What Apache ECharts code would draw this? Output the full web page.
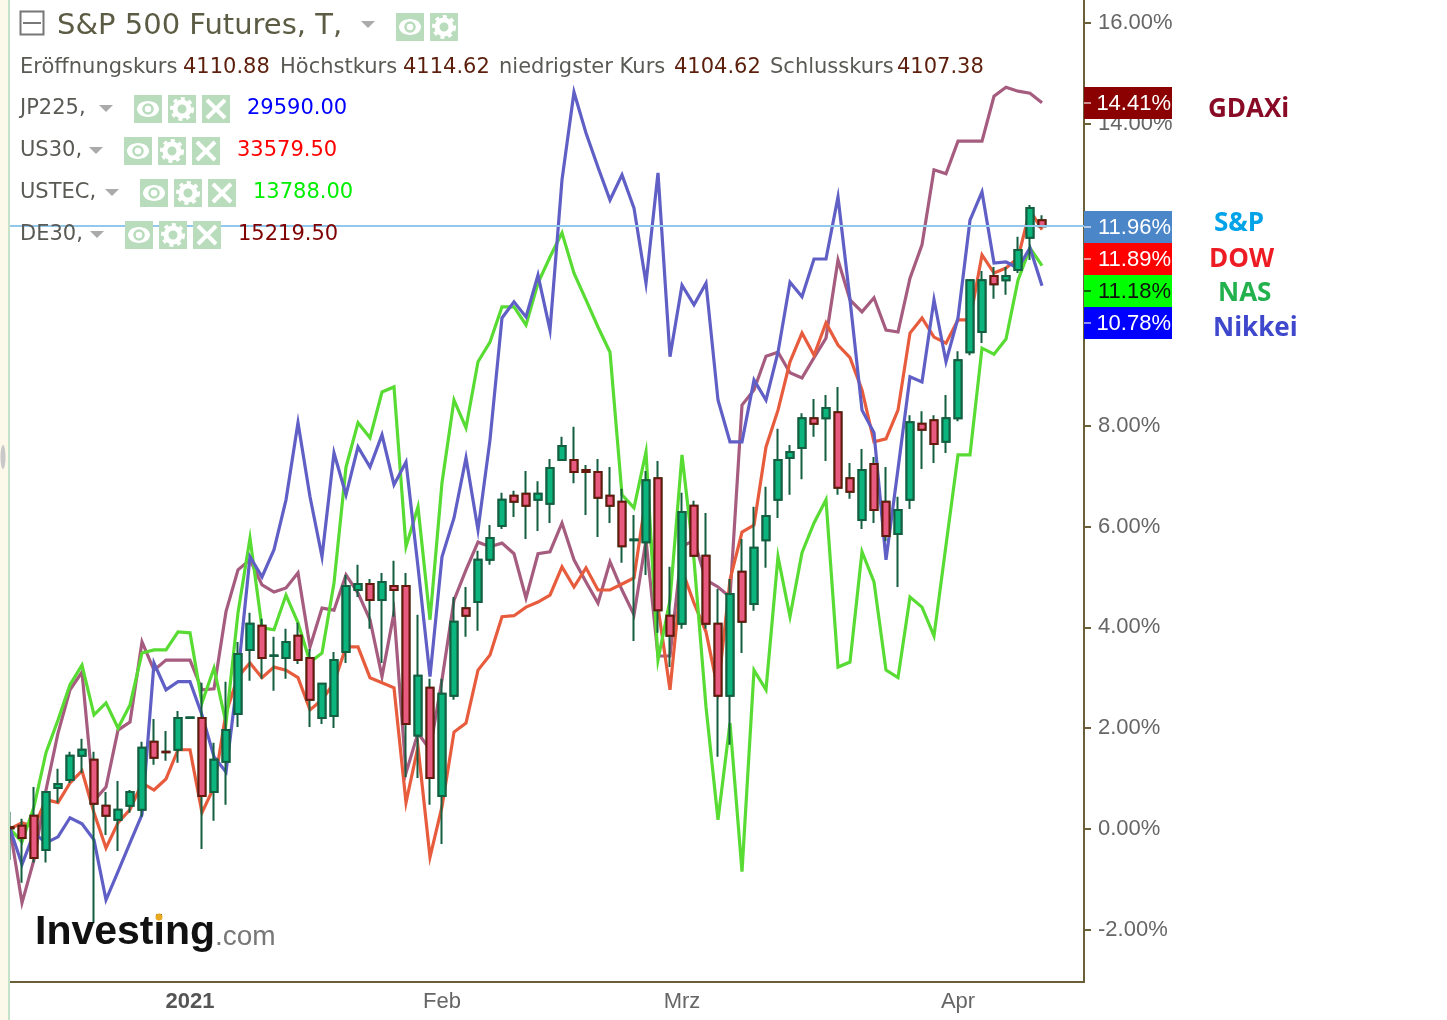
<!DOCTYPE html>
<html>
<head>
<meta charset="utf-8">
<title>S&amp;P 500 Futures</title>
<script src="https://cdn.jsdelivr.net/npm/echarts@6/dist/echarts.min.js"></script>
<style>
html,body{margin:0;padding:0;background:#fff;}
#main{width:1447px;height:1020px;}
</style>
</head>
<body>
<div id="main"></div>
<script>
// candles, in % change
var spOpen = [.03,.06,.26,-.42,.81,.97,1.45,1.37,.46,.18,.46,.38,1.73,1.53,1.57,2.20,2.20,.73,1.33,2.28,
	3.55,4.03,3.43,3.39,3.83,3.39,2.20,2.24,3.51,4.74,4.86,4.54,4.82,4.82,1.85,2.80,.65,2.64,4.38,4.50,
	5.34,6.01,6.61,6.65,6.53,6.45,7.32,7.32,7.12,7.08,6.61,6.49,5.73,5.69,6.96,4.23,4.07,6.41,5.42,4.07,
	2.64,5.10,4.46,5.73,6.53,7.36,7.56,8.15,8.15,8.27,6.96,6.13,7.24,6.49,5.85,6.53,8.04,8.11,7.68,8.15,
	9.46,9.86,10.97,10.89,11.09,11.73,12.08];
var spClose = [.01,-.18,-.58,.73,.89,1.45,1.57,.50,.26,.38,.73,1.61,1.41,1.52,2.20,2.21,.65,1.37,1.96,3.47,
	4.07,3.39,3.44,3.71,3.35,2.56,2.88,3.35,4.82,4.86,4.54,4.90,4.74,2.08,3.04,1.01,2.68,4.11,4.23,5.34,
	5.77,6.53,6.49,6.41,6.65,7.16,7.60,7.08,7.08,6.57,6.41,5.61,5.74,6.92,4.34,3.83,6.29,5.42,4.07,2.64,
	4.66,4.11,5.58,6.21,7.32,7.48,8.15,8.04,8.35,6.77,6.69,7.12,6.33,5.81,6.33,8.07,7.92,7.64,8.15,9.30,
	10.89,10.89,10.81,10.97,11.49,12.32,11.96];
var spLow = [-.62,-1.07,-.67,-.67,.52,.91,1.11,-1.87,-.12,-.44,.32,.24,1.27,1.35,1.31,2.20,-.40,.16,.48,2.02,
	2.94,2.98,2.74,2.98,3.27,2.02,2.08,2.00,3.29,4.60,3.97,3.29,4.21,1.03,1.01,.48,-.30,2.56,3.81,3.93,
	5.24,5.95,6.19,5.75,5.91,6.07,7.32,6.86,6.23,5.79,6.07,5.28,3.73,5.04,3.89,3.21,3.97,5.42,3.97,1.43,
	1.67,3.49,4.33,5.18,6.17,6.63,6.94,7.78,7.30,6.63,6.55,5.95,6.07,5.71,4.80,6.35,7.14,7.26,7.46,8.09,
	9.40,9.64,10.52,10.60,11.03,11.29,11.96];
var spHigh = [.34,.20,.83,.73,1.19,1.53,1.79,1.53,.73,.95,.77,1.73,2.18,1.94,2.34,2.21,2.90,1.71,2.92,3.71,
	4.29,4.17,3.81,3.97,4.09,3.57,2.88,3.51,5.04,5.24,4.96,5.08,5.32,5.08,4.25,2.98,2.98,4.60,4.80,5.52,
	6.03,6.67,6.71,7.10,6.90,7.34,7.78,7.98,7.22,7.34,7.18,6.75,6.23,7.10,7.30,5.20,6.67,6.51,6.27,4.76,
	4.96,5.75,6.39,6.79,7.94,7.62,8.25,8.53,8.61,8.77,7.26,7.54,7.38,7.18,6.59,8.21,8.29,8.21,8.61,9.48,
	10.89,11.07,11.15,11.15,11.75,12.38,12.18];

var dowValues = [0,.12,.04,.58,.52,.91,1.15,.32,-.38,.12,.38,.91,.77,.99,1.57,1.57,.32,.83,2.30,3.02,
	3.29,3.00,3.21,3.15,3.00,2.36,2.56,2.90,3.61,3.61,3.00,2.90,2.80,.52,1.63,-.56,.44,1.92,2.10,3.15,
	3.45,4.21,4.23,4.40,4.50,4.64,5.20,4.80,5.18,4.74,4.74,4.86,4.98,6.59,4.40,2.76,5.14,4.48,3.91,2.76,
	4.94,5.89,6.03,7.58,8.31,9.27,9.84,9.40,10.04,9.60,9.35,8.71,7.68,7.74,8.31,9.84,10.14,9.76,9.64,10.10,
	10.10,11.39,11.03,11.13,11.33,12.28,11.89];
var nasValues = [0,-.26,.44,1.51,2.16,2.86,3.25,2.26,2.50,2.00,2.46,3.49,3.55,3.55,3.91,3.89,2.50,3.19,2.10,4.29,
	5.77,3.99,3.95,4.64,4.09,3.31,3.49,4.88,7.18,8.06,7.76,8.67,8.77,5.60,6.39,4.15,6.87,8.51,7.96,9.27,
	9.66,10.36,10.36,10.00,10.83,11.35,11.83,11.03,10.50,9.96,9.46,6.63,6.37,7.48,3.35,4.54,7.42,5.34,2.42,.18,
	2.10,-.85,3.15,2.76,5.40,4.21,5.48,6.07,6.53,3.21,3.31,5.50,4.90,3.15,3.00,4.60,4.40,3.83,5.63,7.42,
	7.42,9.54,9.42,9.72,10.89,11.53,11.18];
var daxValues = [0,-1.47,-.61,.77,1.90,2.76,3.11,.56,.83,1.96,2.12,3.71,3.15,3.35,3.35,3.35,2.76,2.78,4.31,5.14,
	5.34,4.84,4.70,4.78,5.08,3.61,4.38,4.34,5.04,4.68,4.15,3.02,4.29,1.11,1.90,1.57,2.96,4.54,5.14,5.69,
	5.60,5.67,5.46,4.58,5.46,5.50,6.07,5.34,4.90,4.48,5.30,4.74,4.25,5.73,3.43,3.43,5.60,5.73,4.94,4.80,
	4.60,8.41,8.71,9.38,9.46,9.05,8.95,9.35,9.74,11.29,10.50,10.26,10.54,9.90,9.86,10.93,11.59,13.08,13.00,13.65,
	13.65,13.65,14.54,14.72,14.64,14.60,14.41];
var nikkeiValues = [0,-.71,-.08,-.28,-.16,.22,.10,-.22,-1.41,-.85,-.28,.28,3.29,2.76,2.92,2.92,2.26,1.43,1.13,3.06,
	5.40,5.00,5.54,6.53,8.06,6.59,5.40,7.46,6.63,7.58,7.18,7.82,6.83,7.28,5.20,3.02,5.40,6.17,7.36,5.93,
	7.72,10.14,10.46,10.16,10.99,9.90,12.88,14.62,13.81,13.13,12.48,12.98,12.32,10.83,13.02,9.37,10.79,10.40,10.83,8.51,
	7.68,7.68,8.91,8.51,9.46,10.85,10.56,11.31,11.31,12.54,10.50,8.31,7.86,5.34,7.14,8.97,8.87,10.50,9.27,10.14,
	12.08,12.64,11.23,11.25,11.13,11.53,10.78];

var yTicks = [-2,0,2,4,6,8,10,12,14,16];
var tickIndex = [15,36,56,79];
var tickLabels = ['{b|2021}','Feb','Mrz','Apr'];
var lastPrice = 11.96;

// 90 slots, the last 3 empty like on the site
var categories = [];
for (var i = 0; i < 90; i++) { categories.push('T' + i); }

var wickData = spOpen.map(function (o, i) { return [o, spClose[i], spLow[i], spHigh[i]]; });
var bodyData = spOpen.map(function (o, i) { return [o, spClose[i], Math.min(o, spClose[i]), Math.max(o, spClose[i])]; });

var elements = [];
var legendFont = '"DejaVu Sans"';
function txt(x, y, s, color, size, font, weight, align) {
	elements.push({ type: 'text', x: x, y: y, z: 30, silent: true, style: {
		text: s, fill: color, font: (weight || 'normal') + ' ' + size + 'px ' + (font || legendFont),
		textVerticalAlign: 'middle', textAlign: align || 'left' } });
}
function box(x, y, w, h, color, z) {
	elements.push({ type: 'rect', z: z || 25, silent: true, shape: { x: x, y: y, width: w, height: h }, style: { fill: color } });
}
function tri(x, y) {
	elements.push({ type: 'polygon', z: 30, silent: true, shape: { points: [[x, y], [x + 14, y], [x + 7, y + 7]] }, style: { fill: '#aaaaaa' } });
}
function eye(x, y) {
	box(x, y, 28, 28, '#b8dcbc', 26);
	elements.push({ type: 'ellipse', z: 27, silent: true, shape: { cx: x + 14, cy: y + 14, rx: 11, ry: 8 }, style: { fill: '#fff' } });
	elements.push({ type: 'circle', z: 28, silent: true, shape: { cx: x + 14, cy: y + 14, r: 4.5 }, style: { fill: '#fff', stroke: '#b8dcbc', lineWidth: 2.5 } });
}
function gear(x, y) {
	box(x, y, 28, 28, '#b8dcbc', 26);
	elements.push({ type: 'circle', z: 27, silent: true, shape: { cx: x + 14, cy: y + 14, r: 7 }, style: { fill: '#b8dcbc', stroke: '#fff', lineWidth: 5 } });
	elements.push({ type: 'circle', z: 28, silent: true, shape: { cx: x + 14, cy: y + 14, r: 10.5 }, style: { fill: 'none', stroke: '#fff', lineWidth: 3, lineDash: [4, 4] } });
}
function cross(x, y) {
	box(x, y, 28, 28, '#b8dcbc', 26);
	elements.push({ type: 'line', z: 27, silent: true, shape: { x1: x + 5, y1: y + 5, x2: x + 23, y2: y + 23 }, style: { stroke: '#fff', lineWidth: 4 } });
	elements.push({ type: 'line', z: 27, silent: true, shape: { x1: x + 23, y1: y + 5, x2: x + 5, y2: y + 23 }, style: { stroke: '#fff', lineWidth: 4 } });
}
function seriesRow(y, name, triX, iconX, value, valueX, color) {
	txt(20, y, name, '#5a5a55', 21);
	tri(triX, y - 4);
	eye(iconX, y - 14); gear(iconX + 34, y - 14); cross(iconX + 68, y - 14);
	txt(valueX, y, value, color, 21);
}
function priceTag(y, s, bg, fg) {
	box(1084, y, 88, 32, bg, 20);
	box(1084, y + 15, 7, 2, fg === '#fff' ? 'rgba(255,255,255,.55)' : 'rgba(0,0,0,.6)', 21);
	txt(1171, y + 17, s, fg, 22, '"Liberation Sans"', 'normal', 'right');
}

// left page strip
box(0, 0, 8, 1020, '#fdf9ea', 40);
box(8, 0, 2, 1020, '#c5e2cb', 40);
elements.push({ type: 'ellipse', z: 41, silent: true, shape: { cx: 3, cy: 457, rx: 2.5, ry: 12 }, style: { fill: '#c8c8c8' } });

// header
elements.push({ type: 'rect', z: 30, silent: true, shape: { x: 20.5, y: 11.5, width: 23, height: 23 }, style: { fill: '#fff', stroke: '#777', lineWidth: 2 } });
box(23, 22, 18, 2, '#777', 31);
txt(57, 26, 'S&P 500 Futures, T,', '#5c5c44', 29);
tri(361, 21);
eye(396, 13); gear(430, 13);
var ohlcLabels = [[20, 'Eröffnungskurs'], [280, 'Höchstkurs'], [499, 'niedrigster Kurs'], [770, 'Schlusskurs']];
var ohlcValues = [[183, '4110.88'], [403, '4114.62'], [674, '4104.62'], [897, '4107.38']];
ohlcLabels.forEach(function (a) { txt(a[0], 68, a[1], '#5a5a55', 21); });
ohlcValues.forEach(function (a) { txt(a[0], 68, a[1], '#5c1f0c', 21); });
seriesRow(109, 'JP225,', 99, 134, '29590.00', 247, '#0000ff');
seriesRow(151, 'US30,', 89, 124, '33579.50', 237, '#ff0000');
seriesRow(193, 'USTEC,', 105, 140, '13788.00', 253, '#00ee00');
seriesRow(235, 'DE30,', 90, 125, '15219.50', 238, '#800000');

// right side tags
priceTag(87, '14.41%', '#8b0000', '#fff');
priceTag(211, '11.96%', '#4a86c8', '#fff');
priceTag(243, '11.89%', '#ff0000', '#fff');
priceTag(275, '11.18%', '#00ff00', '#111');
priceTag(307, '10.78%', '#0000ff', '#fff');
txt(1208, 110, 'GDAXi', '#880a26', 26, '"Open Sans"', 'bold');
txt(1214, 224, 'S&P', '#00a2e8', 26, '"Open Sans"', 'bold');
txt(1209, 260, 'DOW', '#ed1c24', 26, '"Open Sans"', 'bold');
txt(1218, 294, 'NAS', '#22b14c', 26, '"Open Sans"', 'bold');
txt(1213, 329, 'Nikkei', '#3f48cc', 26, '"Open Sans"', 'bold');

// logo
txt(35, 933, 'Investing', '#111', 41, '"Liberation Sans"', 'bold');
txt(215, 937, '.com', '#777', 28, '"Liberation Sans"');
elements.push({ type: 'circle', z: 31, silent: true, shape: { cx: 159, cy: 917, r: 3.5 }, style: { fill: '#e8a820' } });

function lineSeries(name, values, color, extra) {
	var s = { name: name, type: 'line', data: values, symbol: 'none', z: 2,
		lineStyle: { color: color, width: 3.2, join: 'miter', miterLimit: 8 } };
	return Object.assign(s, extra || {});
}

var chart = echarts.init(document.getElementById('main'));
chart.setOption({
	animation: false,
	backgroundColor: '#fff',
	grid: { left: 4, right: 363, top: 0, bottom: 38 },
	xAxis: {
		type: 'category',
		data: categories,
		axisLine: { onZero: false, lineStyle: { color: '#6b5f3a', width: 2 } },
		axisTick: { length: 7, alignWithLabel: true, lineStyle: { color: '#6b5f3a', width: 2 },
			interval: function (i) { return tickIndex.indexOf(i) >= 0; } },
		axisLabel: {
			color: '#666', fontFamily: 'Liberation Sans', fontSize: 22, margin: 9,
			interval: function (i) { return tickIndex.indexOf(i) >= 0; },
			formatter: function (v, i) { return tickLabels[tickIndex.indexOf(i)]; },
			rich: { b: { fontWeight: 'bold', color: '#555', fontFamily: 'Liberation Sans', fontSize: 22 } }
		},
		splitLine: { show: false }
	},
	yAxis: {
		type: 'value',
		position: 'right',
		min: -3.04,
		max: 16.45,
		axisLine: { show: true, onZero: false, lineStyle: { color: '#6b5f3a', width: 2 } },
		axisTick: { show: true, length: 7, customValues: yTicks, lineStyle: { color: '#6b5f3a', width: 2 } },
		axisLabel: {
			color: '#666', fontFamily: 'Liberation Sans', fontSize: 22, margin: 14,
			customValues: yTicks,
			formatter: function (v) { return v.toFixed(2) + '%'; }
		},
		splitLine: { show: false }
	},
	series: [
		lineSeries('GDAXi', daxValues, '#a55c7e', {
			markLine: { silent: true, symbol: 'none', label: { show: false }, animation: false,
				lineStyle: { color: '#92c8ec', width: 2, type: 'solid' }, data: [{ yAxis: lastPrice }] }
		}),
		lineSeries('DOW', dowValues, '#e85c3e'),
		lineSeries('NAS', nasValues, '#58dc34'),
		lineSeries('Nikkei', nikkeiValues, '#5f5fc6'),
		{
			name: 'wick', type: 'candlestick', data: wickData, barWidth: 8, z: 3,
			itemStyle: { color: '#135f40', color0: '#135f40', borderColor: '#135f40', borderColor0: '#135f40', borderWidth: 2 }
		},
		{
			name: 'S&P', type: 'candlestick', data: bodyData, barWidth: 8, z: 4,
			itemStyle: { color: '#0db57e', color0: '#e85a80', borderColor: '#135f40', borderColor0: '#66180a', borderWidth: 2 }
		}
	],
	graphic: { elements: elements }
});
</script>
</body>
</html>
